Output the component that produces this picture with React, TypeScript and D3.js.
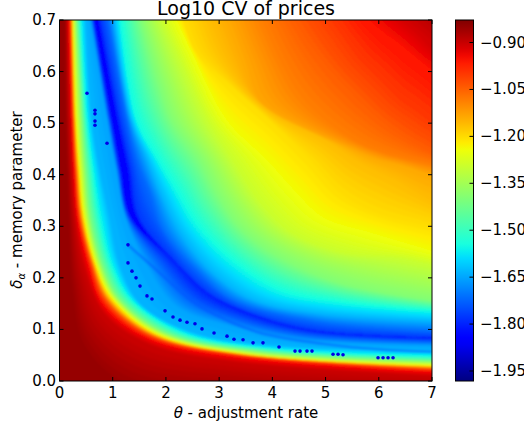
import React from "react";
import * as d3 from "d3";

// Iso-levels of log10 CV, walking from the bottom-left corner to the top-right corner
const levels = [-0.85, -0.90, -0.95, -1.03, -1.24, -1.40, -1.55, -1.63, -1.65, -1.80, -1.86, -1.78, -1.72, -1.64, -1.56, -1.40, -1.30, -1.243, -1.206, -1.165, -1.14, -1.09, -1.05, -1.005, -0.955, -0.92, -0.89];

// Each contour: [theta, delta]
const contours: [number, number][][] = [
  [[.103,.729],[.122,.506],[.150,.409],[.179,.318],[.254,.176],[.479,.070],[1.231,-.002],[3.58,-.029],[7.339,-.037]],
  [[.141,.729],[.197,.506],[.235,.409],[.291,.318],[.479,.215],[.855,.128],[1.701,.070],[3.261,.037],[7.339,.008]],
  [[.179,.729],[.235,.506],[.282,.409],[.348,.318],[.554,.225],[.818,.151],[1.644,.085],[3.261,.048],[7.339,.017]],
  [[.207,.729],[.263,.506],[.310,.409],[.385,.318],[.592,.231],[.874,.157],[1.701,.089],[3.298,.052],[7.339,.022]],
  [[.244,.729],[.310,.506],[.376,.409],[.460,.318],[.686,.225],[.987,.161],[1.832,.091],[3.636,.050],[7.339,.029]],
  [[.301,.729],[.423,.506],[.489,.409],[.573,.318],[.799,.225],[1.137,.157],[2.039,.091],[3.806,.056],[7.339,.037]],
  [[.385,.729],[.517,.506],[.630,.409],[.761,.318],[.987,.225],[1.362,.157],[2.321,.093],[3.994,.062],[7.339,.047]],
  [[.479,.729],[.611,.506],[.761,.409],[.949,.318],[1.137,.225],[1.550,.147],[2.546,.093],[4.144,.068],[7.339,.060]],
  [[.536,.729],[.893,.506],[1.062,.409],[1.231,.318],[1.607,.231],[2.171,.147],[3.110,.109],[4.520,.080],[7.339,.068]],
  [[.592,.729],[.968,.506],[1.137,.409],[1.325,.318],[2.133,.235],[2.772,.171],[3.392,.138],[4.708,.099],[7.339,.083]],
  [[.639,.729],[1.043,.506],[1.231,.409],[1.400,.318],[2.133,.235],[2.772,.171],[3.392,.138],[4.708,.099],[7.339,.083]],
  [[.724,.729],[1.137,.506],[1.344,.409],[1.500,.318],[2.133,.235],[2.772,.171],[3.392,.138],[4.708,.099],[7.339,.083]],
  [[.874,.729],[1.269,.506],[1.456,.429],[1.701,.365],[1.945,.293],[2.640,.209],[3.261,.157],[4.896,.114],[7.339,.095]],
  [[.987,.729],[1.344,.506],[1.644,.429],[1.889,.365],[2.265,.287],[2.885,.209],[3.637,.157],[4.896,.130],[7.339,.114]],
  [[1.100,.729],[1.438,.506],[1.832,.429],[2.171,.370],[2.584,.299],[3.261,.229],[4.144,.173],[5.271,.151],[7.339,.132]],
  [[1.456,.729],[1.889,.574],[2.114,.506],[2.640,.429],[2.960,.365],[3.392,.299],[4.144,.240],[5.271,.190],[7.339,.151]],
  [[1.795,.729],[2.265,.622],[2.772,.506],[3.242,.429],[3.806,.341],[4.369,.287],[5.271,.250],[6.399,.237],[7.339,.219]],
  [[2.077,.729],[2.490,.638],[3.148,.506],[3.900,.429],[4.463,.365],[4.952,.318],[5.892,.287],[6.963,.254],[7.339,.242]],
  [[2.265,.729],[2.546,.642],[3.204,.574],[4.050,.496],[4.708,.429],[5.271,.365],[5.892,.328],[6.963,.299],[7.339,.289]],
  [[2.734,.729],[3.054,.642],[3.486,.568],[3.956,.522],[4.990,.467],[5.647,.423],[6.305,.390],[6.963,.351],[7.339,.335]],
  [[3.091,.729],[3.486,.622],[3.730,.549],[4.050,.520],[5.365,.456],[5.929,.432],[6.399,.419],[7,.399],[7.339,.390]],
  [[3.693,.729],[4.144,.622],[4.520,.555],[4.990,.506],[5.647,.461],[6.117,.442],[6.587,.429],[7,.419],[7.339,.409]],
  [[4.238,.729],[4.708,.652],[5.083,.603],[5.553,.551],[6.023,.506],[6.399,.477],[6.775,.454],[7,.442],[7.339,.423]],
  [[4.896,.729],[5.271,.675],[5.647,.622],[6.023,.584],[6.399,.545],[6.681,.525],[6.869,.510],[7,.500],[7.339,.477]],
  [[5.647,.729],[5.835,.700],[6.117,.675],[6.305,.661],[6.587,.638],[6.775,.622],[7,.603],[7.245,.584],[7.527,.560]],
  [[6.211,.729],[6.399,.700],[6.587,.684],[6.775,.667],[7,.642],[7.245,.622],[7.527,.603],[7.809,.584],[8.09,.564]],
  [[6.869,.729],[7,.700],[7.151,.684],[7.339,.669],[7.527,.653],[7.715,.638],[7.903,.622],[8.09,.607],[8.28,.591]],
];
const farValue = -0.87;

// Fine dark specks along the minimum
const specks: [number, number][] = [
  [.517,.558],[.667,.525],[.667,.518],[.667,.504],[.667,.496],[.893,.461],[1.287,.264],[1.287,.229],[1.362,.213],
  [1.438,.200],[1.513,.184],[1.644,.165],[1.738,.159],[1.983,.136],[2.133,.124],[2.265,.118],[2.396,.114],[2.546,.111],
  [2.678,.101],[2.904,.093],[3.148,.087],[3.279,.081],[3.449,.080],[3.637,.074],[3.824,.074],[4.125,.066],[4.426,.058],
  [4.520,.058],[4.651,.058],[4.745,.058],[5.140,.052],[5.234,.052],[5.328,.051],[5.986,.045],[6.080,.045],[6.174,.045],[6.268,.045],
];
const speckValue = -1.88;

// Weak second trough between the specks and the main minimum
const stripe: [number, number][] = [[1.287,.264],[1.757,.221],[2.452,.157],[2.922,.128],[3.768,.093],[4.952,.072],[6.117,.060],[7,.056]];
const stripeValue = -1.74;

const xTicks = [0, 1, 2, 3, 4, 5, 6, 7];
const yTicks = [0, 0.1, 0.2, 0.3, 0.4, 0.5, 0.6, 0.7];
const barTicks = [-0.9, -1.05, -1.2, -1.35, -1.5, -1.65, -1.8, -1.95];
const vMin = -1.982;
const vMax = -0.828;

const rS = d3.scaleLinear([0, .35, .66, .89, 1], [0, 0, 1, 1, .5]).clamp(true);
const gS = d3.scaleLinear([0, .125, .375, .64, .91, 1], [0, 0, 1, 1, 0, 0]).clamp(true);
const bS = d3.scaleLinear([0, .11, .34, .65, 1], [.5, 1, 1, 0, 0]).clamp(true);
const norm = d3.scaleLinear([vMin, vMax], [0, 1]);
const jet = (v: number) => {
  const t = norm(v);
  return d3.rgb(rS(t) * 255, gS(t) * 255, bS(t) * 255).formatHex();
};

const L = 59.5, R = 432, T = 20, B = 381;
const x = d3.scaleLinear([0, 7], [L, R]);
const y = d3.scaleLinear([0, 0.7], [B, T]);
const barY = d3.scaleLinear([vMin, vMax], [B, T]);
const FONT = "'DejaVu Sans', sans-serif";

const line = d3.line<[number, number]>(d => x(d[0]), d => y(d[1])).curve(d3.curveCatmullRom.alpha(0.5));

function region(pts: [number, number][]) {
  const first = pts[0];
  const last = pts[pts.length - 1];
  return `${line(pts)}L${x(last[0])},${y(-0.1)}L${x(-0.5)},${y(-0.1)}L${x(-0.5)},${y(first[1])}Z`;
}

function bands() {
  const out: { d: string; fill: string }[] = [];
  for (let k = contours.length - 1; k >= 1; k--) {
    const outer = contours[k];
    const inner = contours[k - 1];
    const vo = levels[k];
    const vi = levels[k - 1];
    const n = Math.max(1, Math.ceil(Math.abs(vo - vi) / 0.008));
    for (let s = 0; s < n; s++) {
      const f = s / n;
      const pts = outer.map((p, i) => [p[0] + (inner[i][0] - p[0]) * f, p[1] + (inner[i][1] - p[1]) * f] as [number, number]);
      out.push({ d: region(pts), fill: jet(vo + (vi - vo) * f) });
    }
  }
  out.push({ d: region(contours[0]), fill: jet(levels[0]) });
  return out;
}

const gradStops = d3.range(0, 1.0001, 0.02);

export default function App() {
  const fmt = d3.format(".2f");
  return (
    <svg width={524} height={427} style={{ position: "absolute", left: 0, top: 0 }} fontFamily={FONT}>
      <defs>
        <clipPath id="plot"><rect x={L} y={T} width={R - L} height={B - T} /></clipPath>
        <filter id="soft" x="-5%" y="-5%" width="110%" height="110%"><feGaussianBlur stdDeviation="0.8" /></filter>
        <filter id="speck" x="-5%" y="-5%" width="110%" height="110%"><feGaussianBlur stdDeviation="0.7" /></filter>
        <linearGradient id="bar" x1="0" y1="1" x2="0" y2="0">
          {gradStops.map(t => (
            <stop key={t} offset={t} stopColor={jet(vMin + (vMax - vMin) * t)} />
          ))}
        </linearGradient>
      </defs>

      <g clipPath="url(#plot)">
        <rect x={L} y={T} width={R - L} height={B - T} fill={jet(farValue)} />
        <g filter="url(#soft)">
          {bands().map((b, i) => <path key={i} d={b.d} fill={b.fill} />)}
          <path d={line(stripe) ?? ""} fill="none" stroke={jet(stripeValue)} strokeWidth={2.5} strokeOpacity={0.55} />
        </g>
        <g filter="url(#speck)">
          {specks.map((p, i) => <circle key={i} cx={x(p[0])} cy={y(p[1])} r={1.8} fill={jet(speckValue)} />)}
        </g>
      </g>

      {/* frame and ticks */}
      <rect x={L} y={T} width={R - L} height={B - T} fill="none" stroke="#000" strokeWidth={1} />
      {xTicks.map(t => (
        <g key={t}>
          <line x1={x(t)} x2={x(t)} y1={B} y2={B - 4} stroke="#000" />
          <line x1={x(t)} x2={x(t)} y1={T} y2={T + 4} stroke="#000" />
          <text x={x(t)} y={398} fontSize={15} textAnchor="middle">{t}</text>
        </g>
      ))}
      {yTicks.map(t => (
        <g key={t}>
          <line x1={L} x2={L + 4} y1={y(t)} y2={y(t)} stroke="#000" />
          <line x1={R} x2={R - 4} y1={y(t)} y2={y(t)} stroke="#000" />
          <text x={56} y={y(t) + 5} fontSize={15} textAnchor="end">{t.toFixed(1)}</text>
        </g>
      ))}
      <text x={246} y={15} fontSize={19} textAnchor="middle">Log10 CV of prices</text>
      <text x={246} y={418} fontSize={15} textAnchor="middle">
        <tspan fontStyle="italic">θ</tspan> - adjustment rate
      </text>
      <text transform="translate(22,200) rotate(-90)" fontSize={15} textAnchor="middle">
        <tspan fontStyle="italic">δ</tspan>
        <tspan fontStyle="italic" fontSize={10} dy={3}>α</tspan>
        <tspan dy={-3}> - memory parameter</tspan>
      </text>

      {/* colorbar */}
      <rect x={455.5} y={T} width={18} height={B - T} fill="url(#bar)" stroke="#000" strokeWidth={1} />
      {barTicks.map(t => (
        <g key={t}>
          <line x1={473.5} x2={469.5} y1={barY(t)} y2={barY(t)} stroke="#000" />
          <text x={480} y={barY(t) + 5} fontSize={15}>{"\u2212" + fmt(Math.abs(t))}</text>
        </g>
      ))}
    </svg>
  );
}
